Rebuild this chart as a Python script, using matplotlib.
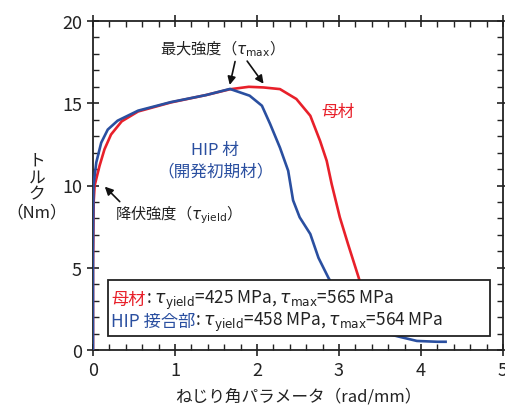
import matplotlib
matplotlib.use("Agg")
import matplotlib.pyplot as plt
from matplotlib.ticker import MultipleLocator
from matplotlib.patches import Rectangle

plt.rcParams['font.family'] = ['Noto Sans CJK JP', 'DejaVu Sans']
plt.rcParams['mathtext.fontset'] = 'dejavusans'

# Base metal (母材)
base_x = [0.0, 0.0, 0.008, 0.02, 0.08, 0.14, 0.22, 0.35, 0.55, 0.95, 1.38, 1.67, 1.90, 2.08,
          2.28, 2.48, 2.65, 2.77, 2.85, 2.91, 3.01, 3.11, 3.24, 3.32, 3.40]
base_y = [0.0, 5.0, 9.0, 10.0, 11.2, 12.2, 13.1, 13.9, 14.5, 15.05, 15.5, 15.85, 16.0, 15.96,
          15.86, 15.26, 14.24, 12.7, 11.5, 10.1, 8.07, 6.44, 4.4, 3.0, 2.0]
# HIP joint
hip_x = [0.0, 0.0, 0.006, 0.04, 0.10, 0.18, 0.30, 0.55, 0.95, 1.38, 1.67, 1.91, 2.06, 2.16,
         2.28, 2.38, 2.44, 2.52, 2.65, 2.75, 2.87, 3.05, 3.25, 3.5, 3.74, 3.95, 4.2, 4.3]
hip_y = [0.0, 6.0, 10.0, 11.4, 12.6, 13.4, 13.94, 14.55, 15.07, 15.5, 15.87, 15.46, 14.85, 13.74,
         12.3, 10.9, 9.1, 8.07, 7.05, 5.6, 4.4, 2.8, 1.7, 1.1, 0.8, 0.55, 0.5, 0.5]

red = '#e8202a'
blue = '#2a4fa0'
dark = '#222222'

fig = plt.figure(figsize=(5.05, 4.06), dpi=100)
ax = fig.add_axes([93/505, 1-351/406, 410/505, 329/406])
ax.plot(base_x, base_y, color=red, lw=1.9, zorder=3, solid_joinstyle='round')
ax.plot(hip_x, hip_y, color=blue, lw=1.9, zorder=3, solid_joinstyle='round')
ax.set_xlim(0, 5)
ax.set_ylim(0, 20)
ax.xaxis.set_major_locator(MultipleLocator(1))
ax.xaxis.set_minor_locator(MultipleLocator(0.2))
ax.yaxis.set_major_locator(MultipleLocator(5))
ax.yaxis.set_minor_locator(MultipleLocator(1))
ax.tick_params(which='major', direction='inout', length=9, width=1.2, labelsize=13,
               top=True, right=True, colors=dark)
ax.tick_params(which='minor', direction='in', length=4, width=1.0, top=True, right=True, colors=dark)
for s in ax.spines.values():
    s.set_linewidth(1.3)
    s.set_color(dark)

fs = 11
arrow = dict(arrowstyle='-|>', color='#111111', lw=1.2, mutation_scale=12)
ax.text(1.52, 18.4, '最大強度（$\\tau_{\\rm max}$）', ha='center', va='center', fontsize=fs, color=dark)
ax.annotate('', xy=(1.66, 15.95), xytext=(1.74, 17.7), arrowprops=arrow)
ax.annotate('', xy=(2.1, 16.05), xytext=(1.86, 17.7), arrowprops=arrow)
ax.text(0.27, 8.3, '降伏強度（$\\tau_{\\rm yield}$）', ha='left', va='center', fontsize=fs, color=dark)
ax.annotate('', xy=(0.12, 10.05), xytext=(0.35, 8.9), arrowprops=arrow)
ax.text(2.99, 14.47, '母材', ha='center', va='center', fontsize=12, color=red)
ax.text(1.49, 12.2, 'HIP 材', ha='center', va='center', fontsize=12, color=blue)
ax.text(1.49, 10.9, '（開発初期材）', ha='center', va='center', fontsize=12, color=blue)

# legend-like box
ax.add_patch(Rectangle((0.183, 0.85), 4.66, 3.41, facecolor='white',
                       edgecolor=dark, lw=1.3, zorder=5))
lfs = 12.4
t1 = ax.text(0.22, 3.1, '母材', color=red, fontsize=lfs, va='center', ha='left', zorder=6)
ax.annotate(': $\\tau_{\\rm yield}$=425 MPa, $\\tau_{\\rm max}$=565 MPa', xy=(1, 0.5),
            xycoords=t1, color=dark, fontsize=lfs, va='center', ha='left', zorder=6)
t2 = ax.text(0.22, 1.76, 'HIP 接合部', color=blue, fontsize=lfs, va='center', ha='left', zorder=6)
ax.annotate(': $\\tau_{\\rm yield}$=458 MPa, $\\tau_{\\rm max}$=564 MPa', xy=(1, 0.5),
            xycoords=t2, color=dark, fontsize=lfs, va='center', ha='left', zorder=6)

fig.text(37/505, 1-178/406, 'ト\nル\nク', ha='center', va='center', fontsize=12, color=dark,
         linespacing=1.0)
fig.text(37/505, 1-213/406, '（Nm）', ha='center', va='center', fontsize=12, color=dark)
fig.text(298/505, 1-397/406, 'ねじり角パラメータ（rad/mm）', ha='center', va='center', fontsize=12,
         color=dark)

fig.savefig('out.png', dpi=100)
